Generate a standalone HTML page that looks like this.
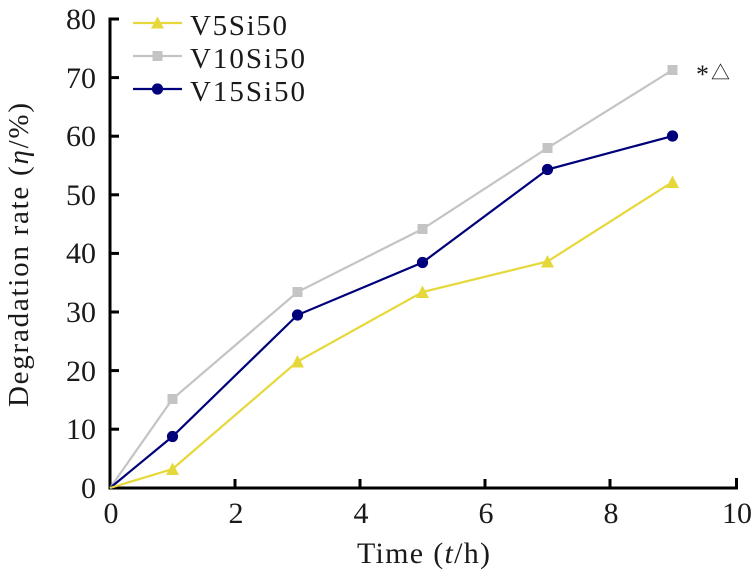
<!DOCTYPE html>
<html>
<head>
<meta charset="utf-8">
<style>
html,body{margin:0;padding:0;background:#fff;}
svg{display:block;}
text{font-family:"Liberation Serif","Noto Serif CJK SC",serif;fill:#1a1a1a;}
</style>
</head>
<body>
<svg width="753" height="579" viewBox="0 0 753 579" xmlns="http://www.w3.org/2000/svg">
  <rect width="753" height="579" fill="#fff"/>
  <!-- axes -->
  <g stroke="#000" stroke-width="3" fill="none">
    <line x1="110" y1="17.5" x2="110" y2="489.5"/>
    <line x1="108.5" y1="488" x2="738" y2="488"/>
    <!-- y ticks -->
    <line x1="110" y1="19" x2="119" y2="19"/>
    <line x1="110" y1="77.6" x2="119" y2="77.6"/>
    <line x1="110" y1="136.2" x2="119" y2="136.2"/>
    <line x1="110" y1="194.8" x2="119" y2="194.8"/>
    <line x1="110" y1="253.4" x2="119" y2="253.4"/>
    <line x1="110" y1="312" x2="119" y2="312"/>
    <line x1="110" y1="370.6" x2="119" y2="370.6"/>
    <line x1="110" y1="429.2" x2="119" y2="429.2"/>
    <!-- x ticks -->
    <line x1="235" y1="488" x2="235" y2="479"/>
    <line x1="360" y1="488" x2="360" y2="479"/>
    <line x1="485" y1="488" x2="485" y2="479"/>
    <line x1="610" y1="488" x2="610" y2="479"/>
    <line x1="736.5" y1="488" x2="736.5" y2="478"/>
  </g>
  <!-- y tick labels -->
  <g font-size="30" text-anchor="end">
    <text x="96" y="29">80</text>
    <text x="96" y="88">70</text>
    <text x="96" y="146">60</text>
    <text x="96" y="205">50</text>
    <text x="96" y="263">40</text>
    <text x="96" y="322">30</text>
    <text x="96" y="381">20</text>
    <text x="96" y="439">10</text>
    <text x="96" y="498">0</text>
  </g>
  <!-- x tick labels -->
  <g font-size="30" text-anchor="middle">
    <text x="111" y="523">0</text>
    <text x="236" y="523">2</text>
    <text x="361" y="523">4</text>
    <text x="486" y="523">6</text>
    <text x="611" y="523">8</text>
    <text x="737" y="523">10</text>
  </g>
  <!-- axis titles -->
  <text x="357" y="563" font-size="30" textLength="133" lengthAdjust="spacing">Time (<tspan font-style="italic">t</tspan>/h)</text>
  <text transform="translate(28,407) rotate(-90)" x="0" y="0" font-size="29" textLength="304" lengthAdjust="spacing">Degradation rate (<tspan font-style="italic">η</tspan>/%)</text>
  <!-- series: grey V10Si50 -->
  <polyline fill="none" stroke="#c4c4c4" stroke-width="2.2" points="110,488 172.5,399 297.5,292 422.5,229 547.5,148 672.5,70"/>
  <g fill="#c4c4c4">
    <rect x="167.5" y="394" width="10" height="10"/>
    <rect x="292.5" y="287" width="10" height="10"/>
    <rect x="417.5" y="224" width="10" height="10"/>
    <rect x="542.5" y="143" width="10" height="10"/>
    <rect x="667.5" y="65" width="10" height="10"/>
  </g>
  <!-- series: navy V15Si50 -->
  <polyline fill="none" stroke="#00007a" stroke-width="2.2" points="110,488 172.5,436.5 297.5,315 422.5,262.5 547.5,169.5 672.5,136"/>
  <g fill="#00007a">
    <circle cx="172.5" cy="436.5" r="5.6"/>
    <circle cx="297.5" cy="315" r="5.6"/>
    <circle cx="422.5" cy="262.5" r="5.6"/>
    <circle cx="547.5" cy="169.5" r="5.6"/>
    <circle cx="672.5" cy="136" r="5.6"/>
  </g>
  <!-- series: yellow V5Si50 -->
  <polyline fill="none" stroke="#e6d83a" stroke-width="2.2" points="110,488 172.5,469 297.5,361.5 422.5,292 547.5,261.5 672.5,182"/>
  <g fill="#e6d83a">
    <polygon points="172.5,462.5 179,475 166,475"/>
    <polygon points="297.5,355 304,367.5 291,367.5"/>
    <polygon points="422.5,285.5 429,298 416,298"/>
    <polygon points="547.5,255 554,267.5 541,267.5"/>
    <polygon points="672.5,175.5 679,188 666,188"/>
  </g>
  <!-- annotation -->
  <text x="696" y="83" font-size="26">*</text>
  <text x="711" y="79" font-size="19" font-family="'DejaVu Sans','Noto Sans CJK SC',sans-serif">△</text>
  <!-- legend -->
  <line x1="133" y1="23" x2="182" y2="23" stroke="#e6d83a" stroke-width="2.2"/>
  <polygon points="157.5,16.5 164,28.5 151,28.5" fill="#e6d83a"/>
  <text x="190" y="35" font-size="29" textLength="97" lengthAdjust="spacing">V5Si50</text>
  <line x1="133" y1="56" x2="182" y2="56" stroke="#c4c4c4" stroke-width="2.2"/>
  <rect x="152.5" y="51" width="10" height="10" fill="#c4c4c4"/>
  <text x="190" y="68" font-size="29" textLength="115" lengthAdjust="spacing">V10Si50</text>
  <line x1="133" y1="89" x2="182" y2="89" stroke="#00007a" stroke-width="2.2"/>
  <circle cx="157.5" cy="89" r="5.6" fill="#00007a"/>
  <text x="190" y="101" font-size="29" textLength="115" lengthAdjust="spacing">V15Si50</text>
</svg>
</body>
</html>
